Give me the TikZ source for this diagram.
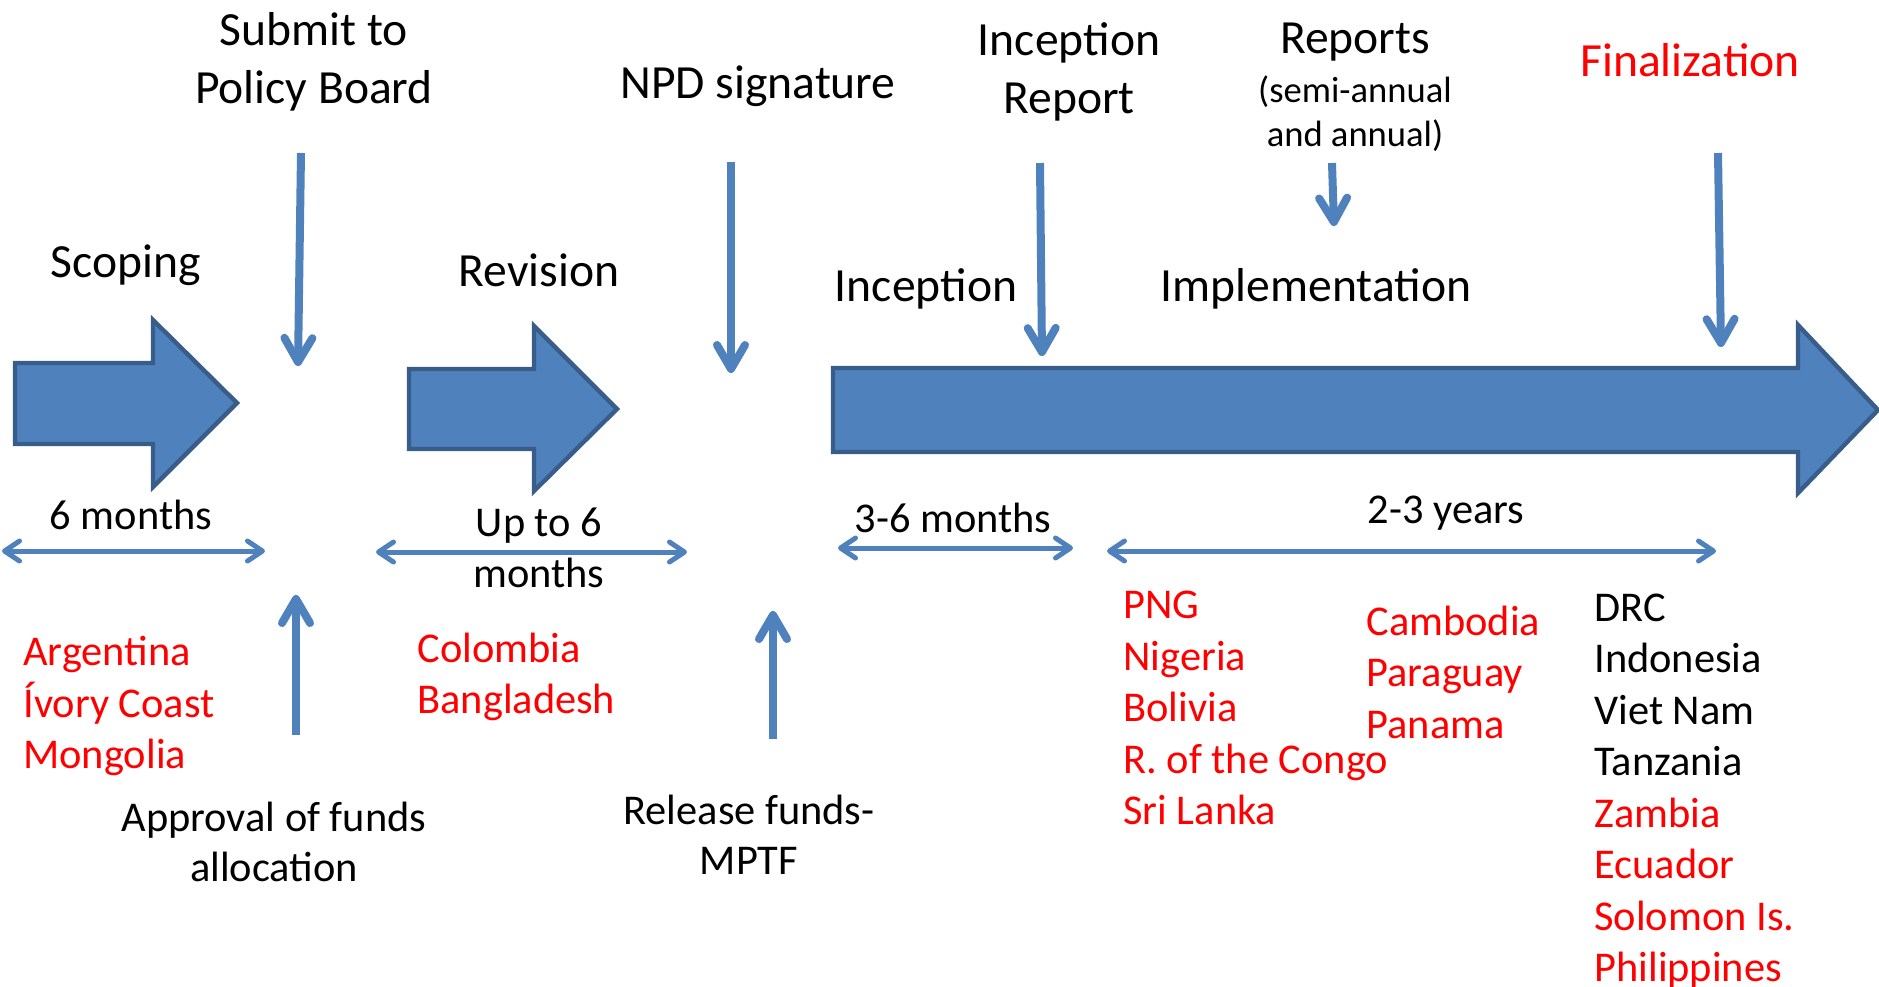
\documentclass[tikz,border=0pt]{standalone}
\usepackage{fontspec}
\setmainfont{Carlito}
\usetikzlibrary{arrows.meta}
\definecolor{ppblue}{HTML}{4F81BD}
\definecolor{ppedge}{HTML}{385D8A}
\definecolor{ppred}{HTML}{FF0000}
\begin{document}
\begin{tikzpicture}[x=0.5pt,y=-0.5pt]
\tikzset{
  bigtxt/.style={inner sep=0pt,align=center,font=\fontsize{23.8}{28.75}\selectfont},
  midtxt/.style={inner sep=0pt,align=center,font=\fontsize{21.2}{25.2}\selectfont},
  smalltxt/.style={inner sep=0pt,align=center,font=\fontsize{18.3}{22}\selectfont},
  countries/.style={inner sep=0pt,align=left,anchor=west,font=\fontsize{21.2}{25.75}\selectfont},
  blockarrow/.style={fill=ppblue,draw=ppedge,line width=2.2pt,line join=miter},
  downarrow/.style={draw=ppblue,line width=4pt,-{Straight Barb[length=12pt,width=14pt,line cap=round,line join=round]}},
  spanarrow/.style={draw=ppblue,line width=2.5pt,{Straight Barb[length=7.5pt,width=10pt,line cap=round,line join=round]}-{Straight Barb[length=7.5pt,width=10pt,line cap=round,line join=round]}}
}
\useasboundingbox (0,0) rectangle (1879,986);
\draw [blockarrow] (15,363) -- (153,363) -- (153,320) -- (237,403) -- (153,487) -- (153,444) -- (15,444) -- cycle;
\draw [blockarrow] (409,369) -- (534,369) -- (534,326) -- (617,409) -- (534,491) -- (534,449) -- (409,449) -- cycle;
\draw [blockarrow] (833,368) -- (1798,368) -- (1798,325) -- (1878,410) -- (1798,493) -- (1798,452) -- (833,452) -- cycle;
\node [bigtxt] (submit) at (314,62) {Submit to\\Policy Board};
\node [bigtxt] (npd) at (758,86) {NPD signature};
\node [bigtxt] (increport) at (1069,72) {Inception\\Report};
\node [bigtxt] (reports) at (1355,42) {Reports};
\node [smalltxt] (semi) at (1355,114) {(semi-annual\\and annual)};
\node [bigtxt,text=ppred] (final) at (1690,60) {Finalization};
\node [bigtxt] (scoping) at (126,265) {Scoping};
\node [bigtxt] (revision) at (539,270) {Revision};
\node [bigtxt] (inception) at (926,289) {Inception};
\node [bigtxt] (impl) at (1316,289) {Implementation};
\node [midtxt] (sixm) at (131,515) {6 months};
\node [midtxt] (upto) at (539,548) {Up to 6\\months};
\node [midtxt] (threesix) at (953,518) {3-6 months};
\node [midtxt] (twothree) at (1446,513) {2-3 years};
\node [midtxt] (approval) at (274,842) {Approval of funds\\allocation};
\node [midtxt] (release) at (749,835) {Release funds-\\MPTF};
\node [countries,text=ppred] (grpa) at (23,706) {Argentina\\Ívory Coast\\Mongolia};
\node [countries,text=ppred] (grpb) at (417,677) {Colombia\\Bangladesh};
\node [countries,text=ppred] (grpc) at (1123,708) {PNG\\Nigeria\\Bolivia\\R. of the Congo\\Sri Lanka};
\node [countries,text=ppred] (grpd) at (1366,672) {Cambodia\\Paraguay\\Panama};
\node [countries] (grpe) at (1594,791) {DRC\\Indonesia\\Viet Nam\\Tanzania\\\textcolor{ppred}{Zambia}\\\textcolor{ppred}{Ecuador}\\\textcolor{ppred}{Solomon Is.}\\\textcolor{ppred}{Philippines}};
\coordinate (submit-a) at (301,153);
\coordinate (submit-b) at (298,366);
\coordinate (npd-a) at (731,162);
\coordinate (npd-b) at (731,373);
\coordinate (increport-a) at (1040,163);
\coordinate (increport-b) at (1042,356);
\coordinate (reports-a) at (1332,163);
\coordinate (reports-b) at (1334,226);
\coordinate (final-a) at (1718,153);
\coordinate (final-b) at (1721,347);
\coordinate (approval-a) at (296,735);
\coordinate (approval-b) at (296,595);
\coordinate (release-a) at (773,739);
\coordinate (release-b) at (773,611);
\coordinate (sixm-a) at (2,551);
\coordinate (sixm-b) at (265,551);
\coordinate (upto-a) at (376,552);
\coordinate (upto-b) at (687,552);
\coordinate (threesix-a) at (838,548);
\coordinate (threesix-b) at (1073,548);
\coordinate (twothree-a) at (1107,551);
\coordinate (twothree-b) at (1716,551);
\draw [downarrow] (submit-a) -- (submit-b);
\draw [downarrow] (npd-a) -- (npd-b);
\draw [downarrow] (increport-a) -- (increport-b);
\draw [downarrow] (reports-a) -- (reports-b);
\draw [downarrow] (final-a) -- (final-b);
\draw [downarrow] (approval-a) -- (approval-b);
\draw [downarrow] (release-a) -- (release-b);
\draw [spanarrow] (sixm-a) -- (sixm-b);
\draw [spanarrow] (upto-a) -- (upto-b);
\draw [spanarrow] (threesix-a) -- (threesix-b);
\draw [spanarrow] (twothree-a) -- (twothree-b);
\end{tikzpicture}
\end{document}
